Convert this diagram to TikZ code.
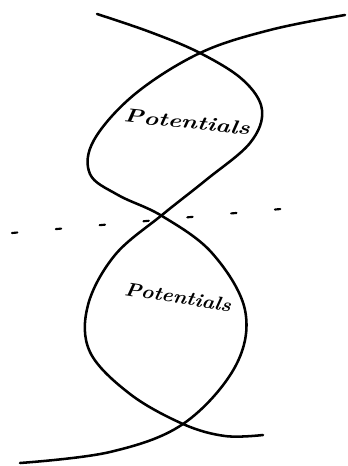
\documentclass[tikz,border=0pt]{standalone}
\usepackage{tikz}

\begin{document}
\begin{tikzpicture}[x=0.75pt,y=-0.75pt,
  strand/.style={line width=1.9pt,line cap=round,line join=round},
  potlabel/.style={font=\Large\bfseries\itshape,xscale=1.3,inner sep=0pt},
  cutline/.style={line width=1.6pt,line cap=round,dash pattern=on 4pt off 29pt}]
\path[use as bounding box] (0,0) rectangle (347,466);
\draw[strand] plot[smooth,tension=0.6] coordinates {(97,14) (150,32) (200,53) (243,80) (262,110) (250,143) (206,180) (162,215) (115,255) (88,305) (90,352) (130,394) (183,424) (225,436) (263,435)};
\draw[strand] plot[smooth,tension=0.6] coordinates {(345,15) (270,30) (200,53) (135,94) (94,140) (90,174) (118,195) (162,216) (212,253) (245,310) (235,367) (183,424) (110,452) (20,463)};
\draw[cutline] (12,233) -- (292,208);
\node[rotate=-6,potlabel] (topPot) at (187,122) {Potentials};
\node[rotate=-9,potlabel,xscale=0.85] (lowPot) at (178,297) {Potentials};
\end{tikzpicture}
\end{document}
